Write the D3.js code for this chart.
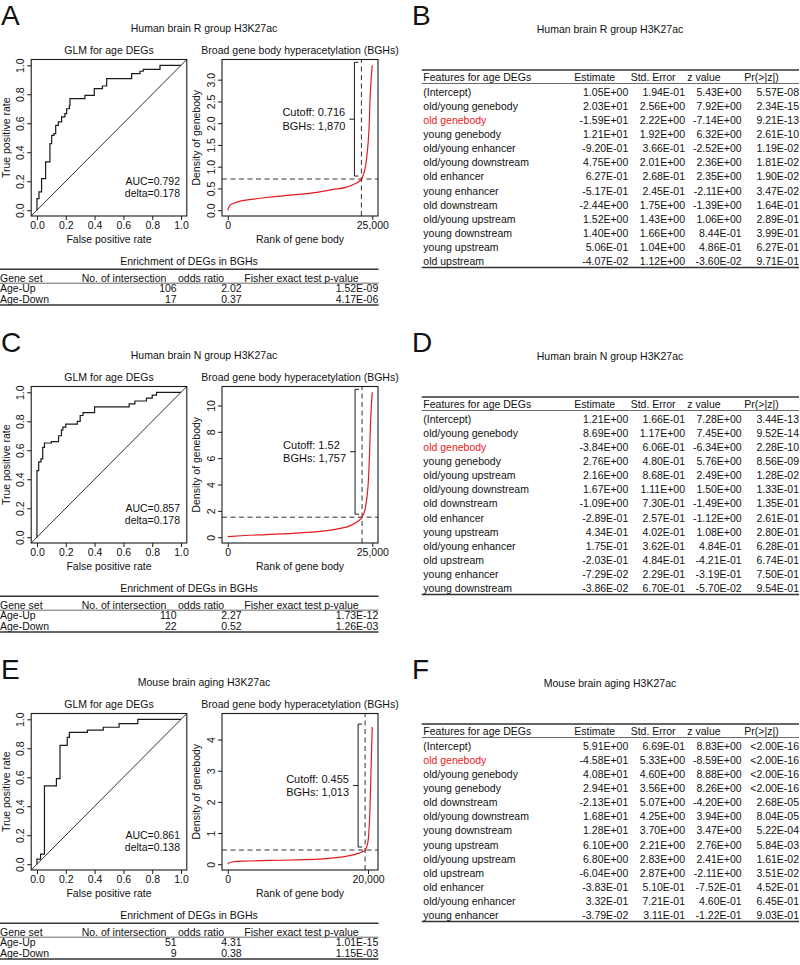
<!DOCTYPE html>
<html><head><meta charset="utf-8">
<script src="https://cdn.jsdelivr.net/npm/d3@7"></script>
<style>
body{margin:0;background:#fff;}
svg text{font-family:"Liberation Sans",Arial,Helvetica,sans-serif;}
</style></head><body>
<svg id="fig" width="800" height="965"></svg>
<script>
// ================= DATA =================
const leftLetters = ["A","C","E"];
const rightLetters = ["B","D","F"];
const panelTitles = ["Human brain R group H3K27ac","Human brain N group H3K27ac","Mouse brain aging H3K27ac"];

// ROC curves (step vertices: at fpr[i] the tpr jumps to tpr[i])
const rocFprA = [0,0,0.014,0.032,0.06,0.09,0.102,0.118,0.13,0.148,0.171,0.194,0.206,0.225,0.229,0.333,0.398,0.454,0.484,0.657,0.715,0.738,0.854,1];
const rocTprA = [0,0.08,0.126,0.218,0.333,0.46,0.517,0.529,0.586,0.609,0.644,0.667,0.70,0.724,0.77,0.793,0.839,0.857,0.908,0.943,0.959,0.972,1.0,1.0];
const rocFprC = [0,0,0.012,0.028,0.04,0.052,0.10,0.15,0.17,0.18,0.20,0.28,0.30,0.32,0.40,0.64,0.68,0.76,0.80,0.83,1.0];
const rocTprC = [0,0.46,0.52,0.54,0.62,0.65,0.66,0.70,0.74,0.76,0.78,0.80,0.84,0.86,0.90,0.92,0.94,0.96,0.98,1.0,1.0];
const rocFprE = [0,0,0.025,0.052,0.135,0.16,0.21,0.225,0.35,0.46,0.57,0.70,1.0];
const rocTprE = [0,0.035,0.07,0.54,0.59,0.82,0.875,0.91,0.925,0.945,0.97,1.0,1.0];
const aucLabels = ["AUC=0.792","AUC=0.857","AUC=0.861"];
const deltaLabels = ["delta=0.178","delta=0.178","delta=0.138"];
const rocTicks = [0,0.2,0.4,0.6,0.8,1.0];

// Sorted gene-body density curves
const densRankA = [0,380,950,2110,4420,6730,9600,12490,15380,18250,20570,21720,22580,23120,23740,24030,24310,24480,24600,24800,24990];
const densValA  = [0,0.115,0.154,0.208,0.254,0.292,0.331,0.362,0.408,0.477,0.53,0.59,0.65,0.716,0.95,1.2,1.6,2.0,2.5,3.0,3.33];
const densRankC = [0,3000,6700,12500,18290,21180,22630,23233,23790,24070,24370,24540,24710,24990];
const densValC  = [0.05,0.13,0.2,0.33,0.58,0.88,1.25,1.52,2.2,3.0,4.6,6.5,8.8,11.0];
const densRankE = [0,150,600,2500,6000,10000,13500,15500,17200,18500,19200,19587,19900,20100,20250,20380,20500,20600];
const densValE  = [0,0.04,0.07,0.1,0.12,0.14,0.17,0.21,0.27,0.34,0.40,0.455,0.62,0.95,1.6,2.6,3.6,4.4];
const geneTotals = [24990,24990,20600];
const bghCounts = [1870,1757,1013];
const cutoffs = [0.716,1.52,0.455];
const cutoffLabels = ["0.716","1.52","0.455"];
const densYMax = [3.33,11.0,4.65];
const densYTicks = [[0,0.5,1,1.5,2,2.5,3],[0,2,4,6,8,10],[0,1,2,3,4]];
const densYFormat = [".1f","d","d"];
const densXTicks = [[0,25000],[0,25000],[0,20000]];

// Enrichment tables
const enrichHeaders = ["Gene set","No. of intersection","odds ratio","Fisher exact test p-value"];
const geneSets = ["Age-Up","Age-Down"];
const enrichCountA = ["106","17"], enrichOddsA = ["2.02","0.37"], enrichPA = ["1.52E-09","4.17E-06"];
const enrichCountC = ["110","22"], enrichOddsC = ["2.27","0.52"], enrichPC = ["1.73E-12","1.26E-03"];
const enrichCountE = ["51","9"],   enrichOddsE = ["4.31","0.38"], enrichPE = ["1.01E-15","1.15E-03"];

// GLM coefficient tables
const glmHeaders = ["Features for age DEGs","Estimate","Std. Error","z value","Pr(>|z|)"];
const highlightFeature = "old genebody";
const featuresB = ["(Intercept)","old/young genebody","old genebody","young genebody","old/young enhancer","old/young downstream","old enhancer","young enhancer","old downstream","old/young upstream","young downstream","young upstream","old upstream"];
const estimateB = ["1.05E+00","2.03E+01","-1.59E+01","1.21E+01","-9.20E-01","4.75E+00","6.27E-01","-5.17E-01","-2.44E+00","1.52E+00","1.40E+00","5.06E-01","-4.07E-02"];
const stdErrB   = ["1.94E-01","2.56E+00","2.22E+00","1.92E+00","3.66E-01","2.01E+00","2.68E-01","2.45E-01","1.75E+00","1.43E+00","1.66E+00","1.04E+00","1.12E+00"];
const zValueB   = ["5.43E+00","7.92E+00","-7.14E+00","6.32E+00","-2.52E+00","2.36E+00","2.35E+00","-2.11E+00","-1.39E+00","1.06E+00","8.44E-01","4.86E-01","-3.60E-02"];
const prB       = ["5.57E-08","2.34E-15","9.21E-13","2.61E-10","1.19E-02","1.81E-02","1.90E-02","3.47E-02","1.64E-01","2.89E-01","3.99E-01","6.27E-01","9.71E-01"];
const featuresD = ["(Intercept)","old/young genebody","old genebody","young genebody","old/young upstream","old/young downstream","old downstream","old enhancer","young upstream","old/young enhancer","old upstream","young enhancer","young downstream"];
const estimateD = ["1.21E+00","8.69E+00","-3.84E+00","2.76E+00","2.16E+00","1.67E+00","-1.09E+00","-2.89E-01","4.34E-01","1.75E-01","-2.03E-01","-7.29E-02","-3.86E-02"];
const stdErrD   = ["1.66E-01","1.17E+00","6.06E-01","4.80E-01","8.68E-01","1.11E+00","7.30E-01","2.57E-01","4.02E-01","3.62E-01","4.84E-01","2.29E-01","6.70E-01"];
const zValueD   = ["7.28E+00","7.45E+00","-6.34E+00","5.76E+00","2.49E+00","1.50E+00","-1.49E+00","-1.12E+00","1.08E+00","4.84E-01","-4.21E-01","-3.19E-01","-5.70E-02"];
const prD       = ["3.44E-13","9.52E-14","2.28E-10","8.56E-09","1.28E-02","1.33E-01","1.35E-01","2.61E-01","2.80E-01","6.28E-01","6.74E-01","7.50E-01","9.54E-01"];
const featuresF = ["(Intercept)","old genebody","old/young genebody","young genebody","old downstream","old/young downstream","young downstream","young upstream","old/young upstream","old upstream","old enhancer","old/young enhancer","young enhancer"];
const estimateF = ["5.91E+00","-4.58E+01","4.08E+01","2.94E+01","-2.13E+01","1.68E+01","1.28E+01","6.10E+00","6.80E+00","-6.04E+00","-3.83E-01","3.32E-01","-3.79E-02"];
const stdErrF   = ["6.69E-01","5.33E+00","4.60E+00","3.56E+00","5.07E+00","4.25E+00","3.70E+00","2.21E+00","2.83E+00","2.87E+00","5.10E-01","7.21E-01","3.11E-01"];
const zValueF   = ["8.83E+00","-8.59E+00","8.88E+00","8.26E+00","-4.20E+00","3.94E+00","3.47E+00","2.76E+00","2.41E+00","-2.11E+00","-7.52E-01","4.60E-01","-1.22E-01"];
const prF       = ["<2.00E-16","<2.00E-16","<2.00E-16","<2.00E-16","2.68E-05","8.04E-05","5.22E-04","5.84E-03","1.61E-02","3.51E-02","4.52E-01","6.45E-01","9.03E-01"];

// ================= DRAWING =================
const FONT = '"Liberation Sans", Arial, Helvetica, sans-serif';
const FS = 10.5;
const INK = "#1a1a1a";
const RED = "#e41a1c";
const svg = d3.select("#fig");
svg.append("rect").attr("width",800).attr("height",965).attr("fill","#fff");

const rowOffsets = [0,327,654];

function txt(g, x, y, s, anchor="start", size=FS, color="#111") {
  return g.append("text").attr("x",x).attr("y",y).attr("text-anchor",anchor)
    .attr("font-size",size).attr("fill",color).style("white-space","pre").text(s);
}

function styleAxis(ax) {
  ax.attr("font-size",FS).attr("font-family",FONT);
  ax.select(".domain").remove();
  ax.selectAll(".tick line").attr("stroke",INK).attr("stroke-width",1);
  ax.selectAll(".tick text").attr("fill","#111");
}

function drawBottomAxis(g, scale, ticks, fmt, y0) {
  const ax = g.append("g").attr("transform",`translate(0,${y0})`)
    .call(d3.axisBottom(scale).tickValues(ticks).tickSize(4).tickFormat(fmt));
  styleAxis(ax);
  ax.selectAll(".tick text").attr("y",13).attr("dy",null);
}
function drawLeftAxis(g, scale, ticks, fmt, x0) {
  const ax = g.append("g").attr("transform",`translate(${x0},0)`)
    .call(d3.axisLeft(scale).tickValues(ticks).tickSize(4).tickFormat(fmt));
  styleAxis(ax);
  ax.selectAll(".tick text").attr("x",0).attr("dy",null).attr("y",0)
    .attr("text-anchor","middle").attr("transform","translate(-7.5,0) rotate(-90)");
}

const PY = [216, 59.5]; // plot y range (bottom, top)

function drawRoc(g, fpr, tpr, auc, delta) {
  const x = d3.scaleLinear().domain([-0.04,1.04]).range([31.2,186.8]);
  const y = d3.scaleLinear().domain([-0.04,1.04]).range(PY);
  drawBottomAxis(g, x, rocTicks, d3.format(".1f"), PY[0]);
  drawLeftAxis(g, y, rocTicks, d3.format(".1f"), 31.2);
  g.append("line").attr("x1",x(-0.04)).attr("y1",y(-0.04)).attr("x2",x(1.04)).attr("y2",y(1.04))
    .attr("stroke",INK).attr("stroke-width",0.9);
  const pts = fpr.map((f,i)=>[f,tpr[i]]);
  g.append("path").attr("d", d3.line().x(d=>x(d[0])).y(d=>y(d[1])).curve(d3.curveStepAfter)(pts))
    .attr("fill","none").attr("stroke",INK).attr("stroke-width",1.2);
  g.append("rect").attr("x",31.2).attr("y",PY[1]).attr("width",155.6).attr("height",PY[0]-PY[1])
    .attr("fill","none").attr("stroke",INK).attr("stroke-width",1.1);
  txt(g, 180, 185, auc, "end");
  txt(g, 180, 197.3, delta, "end");
  txt(g, 109, 54, "GLM for age DEGs", "middle");
  txt(g, 109, 242.5, "False positive rate", "middle");
  g.append("text").attr("transform",`translate(9.5,${(PY[0]+PY[1])/2}) rotate(-90)`)
    .attr("text-anchor","middle").attr("font-size",FS).attr("fill","#111").text("True positive rate");
}

function drawDensity(g, ranks, vals, k) {
  const N = geneTotals[k], M = densYMax[k];
  const x = d3.scaleLinear().domain([-0.04*N, 1.04*N]).range([222,378]);
  const y = d3.scaleLinear().domain([-0.04*M, 1.04*M]).range(PY);
  drawBottomAxis(g, x, densXTicks[k], d3.format(","), PY[0]);
  drawLeftAxis(g, y, densYTicks[k], d3.format(densYFormat[k]), 222);
  const cut = cutoffs[k], rc = N - bghCounts[k];
  g.append("line").attr("x1",222).attr("x2",378).attr("y1",y(cut)).attr("y2",y(cut))
    .attr("stroke","#333").attr("stroke-width",1).attr("stroke-dasharray","5,3.5");
  g.append("line").attr("x1",x(rc)).attr("x2",x(rc)).attr("y1",PY[0]).attr("y2",PY[1])
    .attr("stroke","#333").attr("stroke-width",1).attr("stroke-dasharray","5,3.5");
  const pts = ranks.map((r,i)=>[r,vals[i]]);
  g.append("path").attr("d", d3.line().x(d=>x(d[0])).y(d=>y(d[1])).curve(d3.curveMonotoneX)(pts))
    .attr("fill","none").attr("stroke",RED).attr("stroke-width",1.2);
  // brace
  const bx = x(rc) - 7;
  const top = y(d3.max(vals)) - 3, bot = y(cut) - 3, mid = (top+bot)/2;
  g.append("path").attr("d",`M${bx+4},${top}H${bx}V${bot}H${bx+4}M${bx},${mid}H${bx-5}`)
    .attr("fill","none").attr("stroke",INK).attr("stroke-width",1);
  const t1 = txt(g, 0, mid-3, "Cutoff: " + cutoffLabels[k], "start", 11);
  const t2 = txt(g, 0, mid+10.5, "BGHs: " + d3.format(",")(bghCounts[k]), "start", 11);
  const w = Math.max(t1.node().getComputedTextLength(), t2.node().getComputedTextLength());
  t1.attr("x", bx - 9 - w); t2.attr("x", bx - 9 - w);
  g.append("rect").attr("x",222).attr("y",PY[1]).attr("width",156).attr("height",PY[0]-PY[1])
    .attr("fill","none").attr("stroke",INK).attr("stroke-width",1.1);
  txt(g, 300, 54, "Broad gene body hyperacetylation (BGHs)", "middle");
  txt(g, 300, 242.5, "Rank of gene body", "middle");
  g.append("text").attr("transform",`translate(199.7,${(PY[0]+PY[1])/2}) rotate(-90)`)
    .attr("text-anchor","middle").attr("font-size",FS).attr("fill","#111").text("Density of genebody");
}

function drawEnrich(g, counts, odds, pvals) {
  txt(g, 189, 265, "Enrichment of DEGs in BGHs", "middle");
  g.append("line").attr("x1",0).attr("x2",378.5).attr("y1",269.3).attr("y2",269.3).attr("stroke","#333").attr("stroke-width",1.6);
  const hx = [0, 81.7, 178, 244.3];
  enrichHeaders.forEach((h,i)=>txt(g, hx[i], 281.5, h));
  g.append("line").attr("x1",0).attr("x2",378.5).attr("y1",283.2).attr("y2",283.2).attr("stroke","#444").attr("stroke-width",0.8);
  const ry = d3.scaleLinear().domain([0,1]).range([292.3,302.6]);
  geneSets.forEach((s,i)=>{
    txt(g, 0, ry(i), s);
    txt(g, 176.7, ry(i), counts[i], "end");
    txt(g, 241.7, ry(i), odds[i], "end");
    txt(g, 378.3, ry(i), pvals[i], "end");
  });
  g.append("line").attr("x1",0).attr("x2",378.5).attr("y1",305).attr("y2",305).attr("stroke","#333").attr("stroke-width",1.6);
}

function drawGlm(g, title, feats, est, se, zv, pr) {
  txt(g, 610, 33, title, "middle");
  g.append("line").attr("x1",421.7).attr("x2",799).attr("y1",70).attr("y2",70).attr("stroke","#333").attr("stroke-width",1.6);
  const hx = [423.3, 574.3, 630.7, 687.3, 744.3];
  glmHeaders.forEach((h,i)=>txt(g, hx[i], 81, h));
  g.append("line").attr("x1",421.7).attr("x2",799).attr("y1",83.5).attr("y2",83.5).attr("stroke","#444").attr("stroke-width",0.8);
  const ry = d3.scaleLinear().domain([0, feats.length-1]).range([95.8, 95.8 + 14.1*(feats.length-1)]);
  const rx = [628.3, 685, 741.7, 799];
  feats.forEach((f,i)=>{
    txt(g, 423.3, ry(i), f, "start", FS, f===highlightFeature ? RED : "#111");
    [est,se,zv,pr].forEach((col,j)=>txt(g, rx[j], ry(i), col[i], "end"));
  });
  g.append("line").attr("x1",421.7).attr("x2",799).attr("y1",267.5).attr("y2",267.5).attr("stroke","#333").attr("stroke-width",1.6);
}

const rocSets = [[rocFprA,rocTprA],[rocFprC,rocTprC],[rocFprE,rocTprE]];
const densSets = [[densRankA,densValA],[densRankC,densValC],[densRankE,densValE]];
const enrichSets = [[enrichCountA,enrichOddsA,enrichPA],[enrichCountC,enrichOddsC,enrichPC],[enrichCountE,enrichOddsE,enrichPE]];
const glmSets = [[featuresB,estimateB,stdErrB,zValueB,prB],[featuresD,estimateD,stdErrD,zValueD,prD],[featuresF,estimateF,stdErrF,zValueF,prF]];

rowOffsets.forEach((oy,k)=>{
  const g = svg.append("g").attr("transform",`translate(0,${oy})`).attr("font-family",FONT);
  txt(g, 1, 25, leftLetters[k], "start", 28);
  txt(g, 412, 25, rightLetters[k], "start", 28);
  txt(g, 204, 32, panelTitles[k], "middle");
  drawRoc(g, rocSets[k][0], rocSets[k][1], aucLabels[k], deltaLabels[k]);
  drawDensity(g, densSets[k][0], densSets[k][1], k);
  drawEnrich(g, ...enrichSets[k]);
  drawGlm(g, panelTitles[k], ...glmSets[k]);
});
</script>
</body></html>
